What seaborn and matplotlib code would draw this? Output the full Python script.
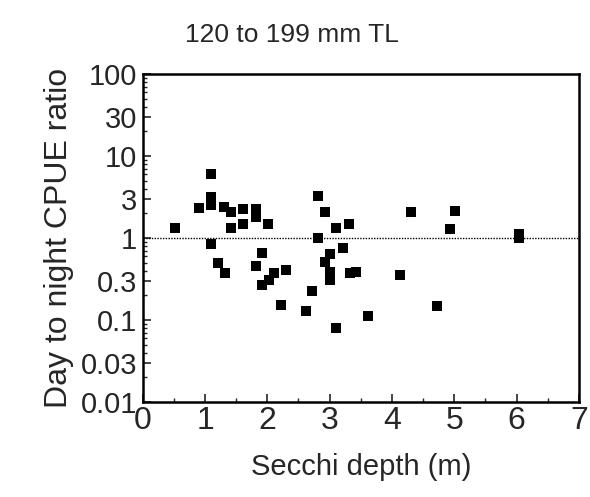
import numpy as np
import pandas as pd
import matplotlib
matplotlib.use('Agg')
import matplotlib.pyplot as plt
import seaborn as sns
from matplotlib.ticker import FixedLocator, FixedFormatter, MultipleLocator

# secchi depth (m) and day/night CPUE ratio
secchi = [0.51, 0.90, 1.10, 1.10, 1.10, 1.10, 1.21, 1.30, 1.32, 1.41, 1.41,
          1.61, 1.61, 1.81, 1.81, 1.82, 1.91, 1.91, 2.01, 2.02, 2.11, 2.22,
          2.30, 2.62, 2.71, 2.81, 2.82, 2.92, 2.92, 3.01, 3.01, 3.01, 3.11,
          3.11, 3.21, 3.31, 3.33, 3.42, 3.62, 4.13, 4.31, 4.73, 4.93, 5.02,
          6.04, 6.04]
ratio = [1.31, 2.3, 6.1, 3.2, 2.5, 0.84, 0.50, 2.4, 0.38, 2.1, 1.31,
         2.26, 1.47, 2.24, 1.82, 0.46, 0.66, 0.27, 1.47, 0.31, 0.37, 0.152,
         0.41, 0.130, 0.226, 3.3, 1.0, 2.05, 0.51, 0.64, 0.39, 0.31, 1.31,
         0.081, 0.76, 1.47, 0.37, 0.39, 0.112, 0.354, 2.1, 0.149, 1.28, 2.15,
         1.12, 0.99]

ytick_vals = [0.01, 0.03, 0.1, 0.3, 1, 3, 10, 30, 100]
ytick_labels = ['0.01', '0.03', '0.1', '0.3', '1', '3', '10', '30', '100']

df = pd.DataFrame({'secchi': secchi, 'ratio': ratio})

sns.set_style('white')
plt.rcParams['font.family'] = ['Liberation Sans', 'DejaVu Sans']

fig = plt.figure(figsize=(5.9, 4.97), dpi=100)
ax = fig.add_axes([0.242, 0.191, 0.739, 0.66])

ax.axhline(1, color='black', linestyle=(0, (1, 1)), linewidth=1, zorder=1)
sns.scatterplot(data=df, x='secchi', y='ratio', marker='s', s=55, color='black',
                edgecolor='black', linewidth=0, ax=ax, zorder=3)

ax.set_yscale('log')
ax.set_ylim(0.01, 100)
ax.set_xlim(0, 7)

ax.yaxis.set_major_locator(FixedLocator(ytick_vals))
ax.yaxis.set_major_formatter(FixedFormatter(ytick_labels))
minor = [m * 10.0 ** e for e in range(-2, 2) for m in range(2, 10) if m != 3]
ax.yaxis.set_minor_locator(FixedLocator(minor))
ax.xaxis.set_major_locator(MultipleLocator(1))
ax.xaxis.set_minor_locator(MultipleLocator(0.5))

ax.tick_params(axis='both', which='major', direction='in', length=6, width=1.2,
               left=True, bottom=True)
ax.tick_params(axis='both', which='minor', direction='in', length=3, width=1,
               left=True, bottom=True)
ax.tick_params(axis='x', pad=3, labelsize=23)
ax.tick_params(axis='y', pad=4, labelsize=21)

for sp in ax.spines.values():
    sp.set_linewidth(1.8)
    sp.set_color('black')

ax.set_xlabel('Secchi depth (m)', fontsize=21, labelpad=12)
ax.set_ylabel('Day to night CPUE ratio', fontsize=23, labelpad=5)
fig.text(0.495, 0.93, '120 to 199 mm TL', fontsize=19, ha='center', va='center')

fig.savefig('out.png', dpi=100)
